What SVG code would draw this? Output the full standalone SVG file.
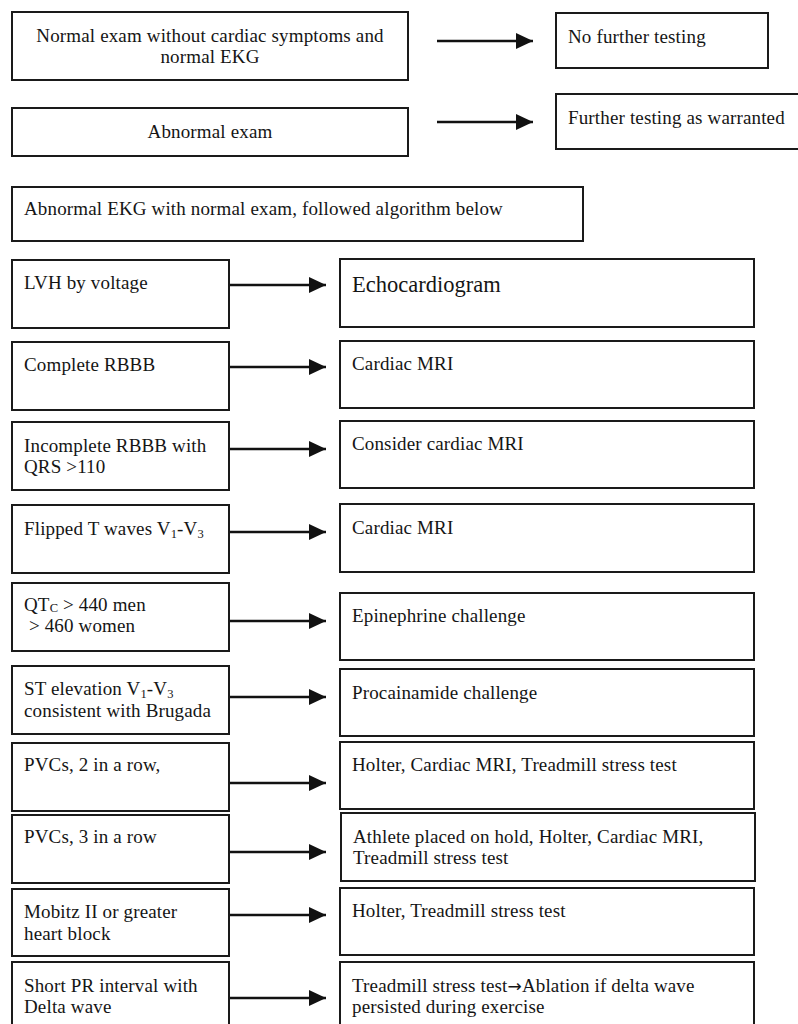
<svg xmlns="http://www.w3.org/2000/svg" width="798" height="1024" viewBox="0 0 798 1024">
<style>
.box{fill:#fff;stroke:#1a1a1a;stroke-width:2}
.t{font-family:"Liberation Serif","Times New Roman",serif;font-size:19px;letter-spacing:0.15px;fill:#151515}
.c{text-anchor:middle}
.big{font-size:22.5px;letter-spacing:0}
.sub{font-size:12.5px}
.arr{font-family:"DejaVu Sans",sans-serif;font-size:17px}
.conn{stroke:#111;stroke-width:2.6;fill:none;marker-end:url(#ah)}
</style>
<defs>
<marker id="ah" markerUnits="userSpaceOnUse" markerWidth="17" markerHeight="17" refX="17" refY="8" orient="auto">
<path d="M0,0 L17,8 L0,16 z" fill="#111"/>
</marker>
</defs>
<rect width="798" height="1024" fill="#fff"/>
<g id="connectors">
<line class="conn" x1="437" y1="41" x2="533" y2="41"/>
<line class="conn" x1="437" y1="122" x2="533" y2="122"/>
<line class="conn" x1="229" y1="285" x2="326" y2="285"/>
<line class="conn" x1="229" y1="367" x2="326" y2="367"/>
<line class="conn" x1="229" y1="449" x2="326" y2="449"/>
<line class="conn" x1="229" y1="532" x2="326" y2="532"/>
<line class="conn" x1="229" y1="621" x2="326" y2="621"/>
<line class="conn" x1="229" y1="697" x2="326" y2="697"/>
<line class="conn" x1="229" y1="783" x2="326" y2="783"/>
<line class="conn" x1="229" y1="852" x2="326" y2="852"/>
<line class="conn" x1="229" y1="915" x2="326" y2="915"/>
<line class="conn" x1="229" y1="998" x2="326" y2="998"/>
</g>
<g id="n-normal"><rect class="box" x="12" y="12" width="396" height="68"/>
<text class="t c" x="210" y="42">Normal exam without cardiac symptoms and</text>
<text class="t c" x="210" y="63">normal EKG</text></g>
<g id="n-nofurther"><rect class="box" x="556" y="13" width="212" height="55"/>
<text class="t" x="568" y="43">No further testing</text></g>
<g id="n-abnormal"><rect class="box" x="12" y="108" width="396" height="48"/>
<text class="t c" x="210" y="138">Abnormal exam</text></g>
<g id="n-further"><rect class="box" x="556" y="94" width="260" height="55"/>
<text class="t" x="568" y="124">Further testing as warranted</text></g>
<g id="n-abnekg"><rect class="box" x="12" y="187" width="571" height="54"/>
<text class="t" x="24" y="215">Abnormal EKG with normal exam, followed algorithm below</text></g>

<g id="n-lvh"><rect class="box" x="12" y="260" width="217" height="68"/>
<text class="t" x="24" y="289">LVH by voltage</text></g>
<g id="n-echo"><rect class="box" x="340" y="259" width="414" height="68"/>
<text class="t big" x="352" y="292">Echocardiogram</text></g>

<g id="n-crbbb"><rect class="box" x="12" y="342" width="217" height="68"/>
<text class="t" x="24" y="371">Complete RBBB</text></g>
<g id="n-mri1"><rect class="box" x="340" y="341" width="414" height="67"/>
<text class="t" x="352" y="370">Cardiac MRI</text></g>

<g id="n-irbbb"><rect class="box" x="12" y="422" width="217" height="68"/>
<text class="t" x="24" y="452">Incomplete RBBB with</text>
<text class="t" x="24" y="473">QRS &gt;110</text></g>
<g id="n-cmri"><rect class="box" x="340" y="421" width="414" height="67"/>
<text class="t" x="352" y="450">Consider cardiac MRI</text></g>

<g id="n-flipped"><rect class="box" x="12" y="505" width="217" height="68"/>
<text class="t" x="24" y="535">Flipped T waves V<tspan class="sub" dy="3">1</tspan><tspan dy="-3">-V</tspan><tspan class="sub" dy="3">3</tspan></text></g>
<g id="n-mri2"><rect class="box" x="340" y="504" width="414" height="68"/>
<text class="t" x="352" y="534">Cardiac MRI</text></g>

<g id="n-qtc"><rect class="box" x="12" y="583" width="217" height="68"/>
<text class="t" x="24" y="611">QT<tspan class="sub" dy="1">C</tspan><tspan dy="-1"> &gt; 440 men</tspan></text>
<text class="t" x="24" y="632" xml:space="preserve"> &gt; 460 women</text></g>
<g id="n-epi"><rect class="box" x="340" y="593" width="414" height="67"/>
<text class="t" x="352" y="622">Epinephrine challenge</text></g>

<g id="n-st"><rect class="box" x="12" y="666" width="217" height="68"/>
<text class="t" x="24" y="695">ST elevation V<tspan class="sub" dy="3">1</tspan><tspan dy="-3">-V</tspan><tspan class="sub" dy="3">3</tspan></text>
<text class="t" x="24" y="717">consistent with Brugada</text></g>
<g id="n-proc"><rect class="box" x="340" y="669" width="414" height="67"/>
<text class="t" x="352" y="699">Procainamide challenge</text></g>

<g id="n-pvc2"><rect class="box" x="12" y="743" width="217" height="68"/>
<text class="t" x="24" y="771">PVCs, 2 in a row,</text></g>
<g id="n-holter1"><rect class="box" x="340" y="742" width="414" height="67"/>
<text class="t" x="352" y="771">Holter, Cardiac MRI, Treadmill stress test</text></g>

<g id="n-pvc3"><rect class="box" x="12" y="815" width="217" height="68"/>
<text class="t" x="24" y="843">PVCs, 3 in a row</text></g>
<g id="n-hold"><rect class="box" x="341" y="813" width="414" height="68"/>
<text class="t" x="353" y="843">Athlete placed on hold, Holter, Cardiac MRI,</text>
<text class="t" x="353" y="864">Treadmill stress test</text></g>

<g id="n-mobitz"><rect class="box" x="12" y="889" width="217" height="67"/>
<text class="t" x="24" y="918">Mobitz II or greater</text>
<text class="t" x="24" y="940">heart block</text></g>
<g id="n-holter2"><rect class="box" x="340" y="888" width="414" height="67"/>
<text class="t" x="352" y="917">Holter, Treadmill stress test</text></g>

<g id="n-shortpr"><rect class="box" x="12" y="962" width="217" height="70"/>
<text class="t" x="24" y="992">Short PR interval with</text>
<text class="t" x="24" y="1013">Delta wave</text></g>
<g id="n-ablation"><rect class="box" x="340" y="962" width="414" height="70"/>
<text class="t" x="352" y="992">Treadmill stress test<tspan class="arr">→</tspan>Ablation if delta wave</text>
<text class="t" x="352" y="1013">persisted during exercise</text></g>
</svg>
